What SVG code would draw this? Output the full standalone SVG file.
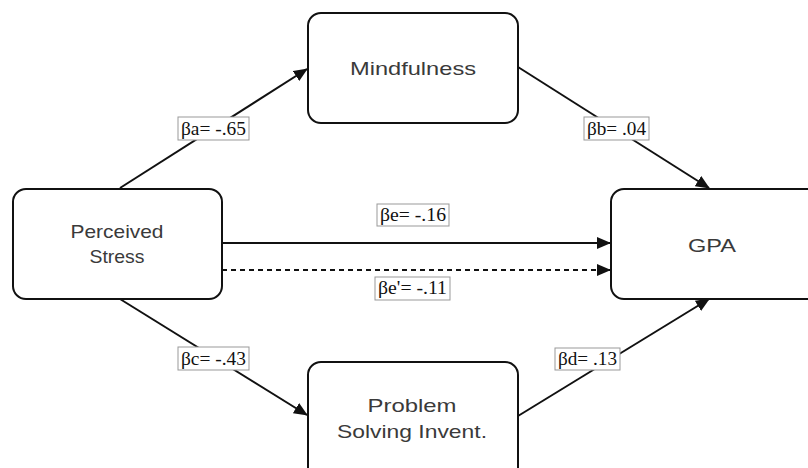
<svg xmlns="http://www.w3.org/2000/svg" width="808" height="468" viewBox="0 0 808 468">
<style>
.node rect{fill:#fff;stroke:#111;stroke-width:2}
.node text{font-family:"Liberation Sans","DejaVu Sans",sans-serif;font-size:19px;fill:#3a3a3a;text-anchor:middle}
.edge{stroke:#111;stroke-width:2;fill:none}
.lbl rect{fill:#fff;stroke:#999;stroke-width:1}
.lbl text{font-family:"Liberation Serif","DejaVu Serif",serif;font-size:18px;fill:#111;text-anchor:middle}
</style>
<defs>
<marker id="ah" markerUnits="userSpaceOnUse" markerWidth="14" markerHeight="12" refX="13" refY="6" orient="auto">
<path d="M0,0 L14,6 L0,12 Z" fill="#111"/>
</marker>
</defs>
<rect width="808" height="468" fill="#fff"/>
<g id="connectors">
<line class="edge" x1="120" y1="188" x2="307" y2="69" marker-end="url(#ah)"/>
<line class="edge" x1="518" y1="67" x2="709" y2="188" marker-end="url(#ah)"/>
<line class="edge" x1="222" y1="243" x2="610" y2="243" marker-end="url(#ah)"/>
<line class="edge" x1="222" y1="270" x2="610" y2="270" stroke-dasharray="5,4" marker-end="url(#ah)"/>
<line class="edge" x1="120" y1="299" x2="307" y2="415" marker-end="url(#ah)"/>
<line class="edge" x1="518" y1="416" x2="709" y2="299" marker-end="url(#ah)"/>
</g>
<g id="node-stress" class="node">
<rect x="13" y="189" width="209" height="110" rx="13"/>
<text x="117" y="238" textLength="93" lengthAdjust="spacingAndGlyphs">Perceived</text>
<text x="117" y="263" textLength="55" lengthAdjust="spacingAndGlyphs">Stress</text>
</g>
<g id="node-mindfulness" class="node">
<rect x="308" y="13" width="210" height="110" rx="13"/>
<text x="413" y="75" textLength="126" lengthAdjust="spacingAndGlyphs">Mindfulness</text>
</g>
<g id="node-gpa" class="node">
<rect x="611" y="189" width="220" height="110" rx="13"/>
<text x="712" y="252" textLength="48" lengthAdjust="spacingAndGlyphs">GPA</text>
</g>
<g id="node-problem" class="node">
<rect x="308" y="362" width="210" height="120" rx="13"/>
<text x="412" y="412" textLength="89" lengthAdjust="spacingAndGlyphs">Problem</text>
<text x="412" y="438" textLength="150" lengthAdjust="spacingAndGlyphs">Solving Invent.</text>
</g>
<g id="labels">
<g class="lbl"><rect x="178" y="117" width="71" height="23"/><text x="213.5" y="135" textLength="65" lengthAdjust="spacingAndGlyphs">βa= -.65</text></g>
<g class="lbl"><rect x="584" y="117" width="65" height="23"/><text x="616.5" y="135" textLength="59" lengthAdjust="spacingAndGlyphs">βb= .04</text></g>
<g class="lbl"><rect x="178" y="347" width="71" height="23"/><text x="213.5" y="365" textLength="65" lengthAdjust="spacingAndGlyphs">βc= -.43</text></g>
<g class="lbl"><rect x="555" y="348" width="65" height="22"/><text x="587.5" y="365" textLength="59" lengthAdjust="spacingAndGlyphs">βd= .13</text></g>
<g class="lbl"><rect x="377" y="204" width="72" height="22"/><text x="413" y="221" textLength="66" lengthAdjust="spacingAndGlyphs">βe= -.16</text></g>
<g class="lbl"><rect x="375" y="277" width="75" height="23"/><text x="412.5" y="294" textLength="69" lengthAdjust="spacingAndGlyphs">βe'= -.11</text></g>
</g>
</svg>
